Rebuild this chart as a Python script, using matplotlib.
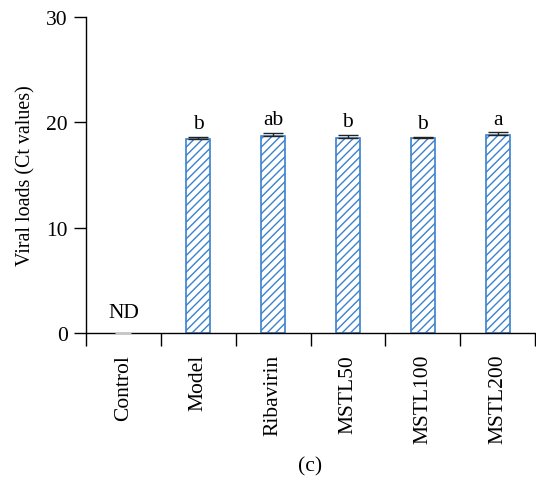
import matplotlib.pyplot as plt

groups = ['Control', 'Model', 'Ribavirin', 'MSTL50', 'MSTL100', 'MSTL200']
ct_values = [0, 18.42, 18.74, 18.52, 18.52, 18.80]
ct_err = [0, 0.22, 0.29, 0.31, 0.13, 0.31]
letters = ['ND', 'b', 'ab', 'b', 'b', 'a']

plt.rcParams['font.family'] = ['Liberation Serif', 'DejaVu Serif']
plt.rcParams['hatch.linewidth'] = 1.0

fs = 15.5
fig = plt.figure(figsize=(5.36, 4.81), dpi=100)
ax = fig.add_axes([86 / 536, 1 - 334 / 481, (535 - 86) / 536, (334 - 18) / 481])

blue = '#3b82cc'
pos = [i + 0.5 for i in range(len(groups))]

ax.bar(pos[1:], ct_values[1:], width=0.32, color='white', edgecolor=blue,
       hatch='////', linewidth=1.2, zorder=2)
ax.errorbar(pos[1:], ct_values[1:], yerr=[[0] * 5, ct_err[1:]], fmt='none',
            ecolor='#222222', elinewidth=1, capsize=7, capthick=1, zorder=3)
# control: not detected, only a grey cap at zero
ax.plot([pos[0]], [0], marker='_', markersize=11, color='#c8c8c8', mew=2,
        zorder=3, clip_on=False)

for i, lab in enumerate(letters):
    if i == 0:
        ax.text(pos[i], 1.0, lab, ha='center', va='bottom', fontsize=fs)
    else:
        ax.text(pos[i], ct_values[i] + ct_err[i] + 0.3, lab, ha='center',
                va='bottom', fontsize=fs)

ax.set_xlim(0, 6)
ax.set_ylim(0, 30)
ax.set_yticks([0, 10, 20, 30])
ax.set_xticks(range(7))
ax.set_xticklabels([])
ax.set_xticks(pos, minor=True)
ax.set_xticklabels(groups, minor=True, rotation=90, fontsize=fs)
ax.tick_params(axis='x', which='minor', length=0, pad=15)
ax.tick_params(axis='x', which='major', length=9, width=1, direction='out')
ax.tick_params(axis='y', length=9, width=1, direction='out', labelsize=fs, pad=4)

ax.spines['top'].set_visible(False)
ax.spines['right'].set_visible(False)
ax.spines['left'].set_linewidth(1)
ax.spines['bottom'].set_linewidth(1)

ax.set_ylabel('Viral loads (Ct values)', fontsize=14.4, labelpad=8)

fig.text(310 / 536, 1 - 467 / 481, '(c)', ha='center', va='center', fontsize=fs)

fig.savefig('out.png', dpi=100)
